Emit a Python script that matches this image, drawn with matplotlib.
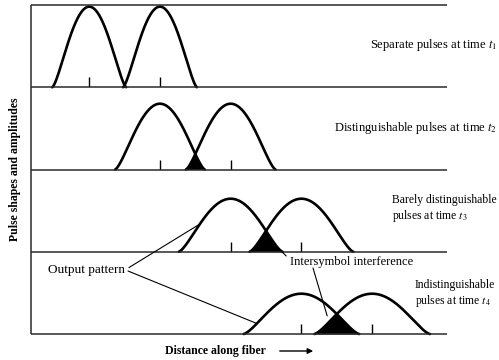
import numpy as np
import matplotlib
matplotlib.use("Agg")
import matplotlib.pyplot as plt

plt.rcParams["font.family"] = ["Liberation Serif", "DejaVu Serif"]
plt.rcParams["mathtext.fontset"] = "stix"

# pulse data (distance units 0..100 along the fiber, amplitude 0..1)
centres = [[14, 31], [31, 48], [48, 65], [65, 82]]
half_widths = [8.9, 10.8, 12.5, 13.9]
heights = [0.98, 0.80, 0.645, 0.49]
labels = ["Separate pulses at time $t_1$",
          "Distinguishable pulses at time $t_2$",
          "Barely distinguishable\npulses at time $t_3$",
          "Indistinguishable\npulses at time $t_4$"]


def pulse(x, c, w, h):
    u = (x - c) / w
    return h * np.clip(1 - u ** 2, 0, None) ** 1.5


W, H = 499, 360
fig, axes = plt.subplots(4, 1, figsize=(W / 100, H / 100), dpi=100, sharex=True,
                         gridspec_kw=dict(hspace=0))
fig.subplots_adjust(left=31 / W, right=447 / W, top=1 - 5 / H, bottom=1 - 334 / H)

x = np.linspace(0, 100, 2000)
for i, ax in enumerate(axes):
    ax.patch.set_visible(False)
    w, h = half_widths[i], heights[i]
    p = [pulse(x, c, w, h) for c in centres[i]]
    for c, pi in zip(centres[i], p):
        m = np.abs(x - c) <= w
        ax.plot(x[m], pi[m], color="black", lw=1.9, clip_on=False, solid_capstyle="round")
    ax.fill_between(x, 0, np.minimum(p[0], p[1]), color="black", lw=0)
    ax.vlines(centres[i], 0, 0.12, color="black", lw=1.0)
    ax.set_xlim(0, 100)
    ax.set_ylim(0, 1)
    ax.set_xticks([])
    ax.set_yticks([])
    for s in ["left", "bottom", "top"]:
        ax.spines[s].set_linewidth(1.1)
        ax.spines[s].set_color("#2a2a2a")
        ax.spines[s].set_capstyle("butt")
    ax.spines["right"].set_visible(False)
    if i > 0:
        ax.spines["top"].set_visible(False)

ax1, ax2, ax3, ax4 = axes
fs = 9

# right-hand labels
fig.text(497 / W, 1 - 45 / H, labels[0], ha="right", va="center", fontsize=fs)
fig.text(497 / W, 1 - 128 / H, labels[1], ha="right", va="center", fontsize=fs)
fig.text(392 / W, 1 - 209 / H, labels[2], ha="left", va="center", fontsize=8.4,
         linespacing=1.2)
fig.text(415 / W, 1 - 294 / H, labels[3], ha="left", va="center", fontsize=8.4,
         linespacing=1.2)

# axis labels
fig.text(15 / W, 1 - 169 / H, "Pulse shapes and amplitudes", rotation=90,
         ha="center", va="center", fontsize=8.5, fontweight="bold")
fig.text(165 / W, 1 - 351 / H, "Distance along fiber", ha="left", va="center",
         fontsize=8.5, fontweight="bold")
fig.add_artist(matplotlib.patches.FancyArrowPatch(
    (277 / W, 1 - 351 / H), (316 / W, 1 - 351 / H), transform=fig.transFigure,
    arrowstyle="-|>", mutation_scale=8, lw=1.0, color="black"))

# output pattern pointers
xp3 = 40.6
xp4 = 54.3
ax4.annotate("Output pattern", xy=(xp3, pulse(xp3, centres[2][0], half_widths[2], heights[2])),
             xycoords=ax3.transData, xytext=(48, H - 270), textcoords="figure pixels",
             ha="left", va="center", fontsize=9.5,
             arrowprops=dict(arrowstyle="-", lw=0.8, color="black",
                             relpos=(1, 0.5), shrinkA=1, shrinkB=0))
ax4.annotate("", xy=(xp4, pulse(xp4, centres[3][0], half_widths[3], heights[3])),
             xycoords=ax4.transData, xytext=(128, H - 271), textcoords="figure pixels",
             arrowprops=dict(arrowstyle="-", lw=0.8, color="black", shrinkA=0, shrinkB=0))

# intersymbol interference pointers
ax4.annotate("Intersymbol interference", xy=(60.3, 0.0), xycoords=ax3.transData,
             xytext=(290, H - 262), textcoords="figure pixels", ha="left", va="center",
             fontsize=fs,
             arrowprops=dict(arrowstyle="-", lw=0.8, color="black",
                             relpos=(0, 0.7), shrinkA=1, shrinkB=0))
ax4.annotate("", xy=(71.2, 0.22), xycoords=ax4.transData,
             xytext=(313, H - 268), textcoords="figure pixels",
             arrowprops=dict(arrowstyle="-", lw=0.8, color="black", shrinkA=0, shrinkB=0))

fig.savefig("out.png", dpi=100)
